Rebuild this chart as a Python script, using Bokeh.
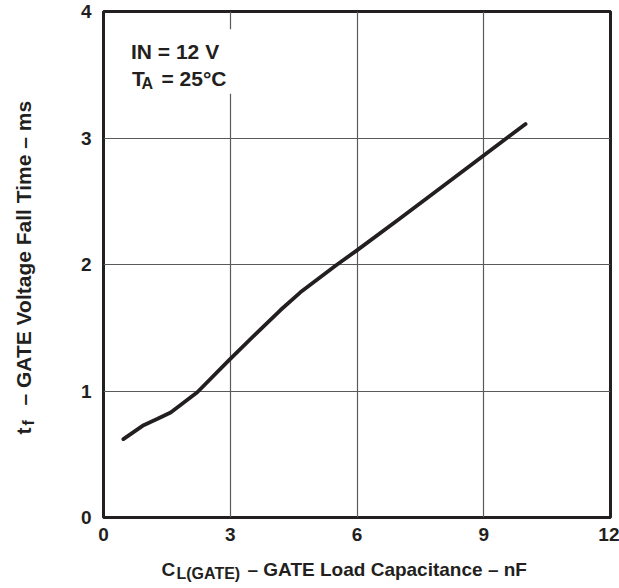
import math
from bokeh.plotting import figure
from bokeh.models import Range1d, FixedTicker, Label, BoxAnnotation
from bokeh.layouts import column, row
from bokeh.embed import file_html
from bokeh.resources import INLINE

# Data
cap_nf = [0.47, 0.95, 1.28, 1.59, 2.22, 2.96, 3.6, 4.19, 4.66, 5.49, 5.99, 7.0, 8.0, 8.99, 9.99]
fall_ms = [0.62, 0.73, 0.78, 0.83, 0.99, 1.24, 1.45, 1.64, 1.78, 1.99, 2.11, 2.36, 2.61, 2.86, 3.11]
x_ticks = [0, 3, 6, 9, 12]
y_ticks = [0, 1, 2, 3, 4]

FONT = "Liberation Sans"
INK = "#231f20"

TOP_H = 550
LEFT_W = 62
TOTAL_W = 619
BOTTOM_H = 38

# ---------------- main chart ----------------
p = figure(width=TOTAL_W - LEFT_W, height=TOP_H, output_backend="svg", toolbar_location=None,
           x_range=Range1d(0, 12), y_range=Range1d(0, 4),
           min_border_left=41, min_border_right=9, min_border_top=11, min_border_bottom=33)

p.outline_line_color = INK
p.outline_line_width = 3

for ax in (p.xaxis[0], p.yaxis[0]):
    ax.axis_line_color = None
    ax.major_tick_line_color = None
    ax.minor_tick_line_color = None
    ax.major_label_text_font = FONT
    ax.major_label_text_font_style = "bold"
    ax.major_label_text_font_size = "19px"
    ax.major_label_text_color = INK
p.xaxis[0].ticker = FixedTicker(ticks=x_ticks)
p.yaxis[0].ticker = FixedTicker(ticks=y_ticks)
p.xaxis[0].major_label_standoff = 4
p.yaxis[0].major_label_standoff = 6

p.xgrid[0].ticker = FixedTicker(ticks=x_ticks)
p.ygrid[0].ticker = FixedTicker(ticks=y_ticks)
for g in (p.xgrid[0], p.ygrid[0]):
    g.grid_line_color = "#5a5a5a"
    g.grid_line_width = 1.2

p.line(cap_nf, fall_ms, line_color=INK, line_width=3.8, line_cap="round", line_join="round")

# white box behind the condition text
p.add_layout(BoxAnnotation(left=0.4, right=3.3, bottom=3.35, top=3.86,
                           fill_color="white", fill_alpha=1.0, line_color=None))


def lab(fig, text, x, y, size, angle=0.0):
    fig.add_layout(Label(x=x, y=y, x_units="screen", y_units="screen", text=text,
                         text_font=FONT, text_font_style="bold", text_font_size=size,
                         text_color=INK, text_align="left", text_baseline="alphabetic",
                         angle=angle))

# condition text (screen units from frame bottom-left)
lab(p, "IN = 12 V", 27.5, 466, "21px")
lab(p, "T", 28.5, 439, "21px")
lab(p, "A", 38, 434, "16px")
lab(p, "= 25°C", 58, 439, "21px")


def blank(w, h):
    f = figure(width=w, height=h, output_backend="svg", toolbar_location=None,
               x_range=Range1d(0, 1), y_range=Range1d(0, 1),
               x_axis_type=None, y_axis_type=None,
               min_border_left=0, min_border_right=0, min_border_top=0, min_border_bottom=0)
    f.outline_line_color = None
    f.xgrid.visible = False
    f.ygrid.visible = False
    return f

# ---------------- y axis title ----------------
left = blank(LEFT_W, TOP_H)
ang = math.pi / 2
lab(left, "t", 23, 83, "21px", angle=ang)
lab(left, "f", 28, 92, "16px", angle=ang)
lab(left, "– GATE Voltage Fall Time – ms", 23, 112, "21px", angle=ang)

# ---------------- x axis title ----------------
bottom = blank(TOTAL_W, BOTTOM_H)
lab(bottom, "C", 161, 19, "19px")
lab(bottom, "L(GATE)", 176, 15, "16px")
lab(bottom, "– GATE Load Capacitance – nF", 247, 19, "19px")

layout = column(row(left, p, spacing=0), bottom, spacing=0)

open("out.html", "w").write(file_html(layout, INLINE))
